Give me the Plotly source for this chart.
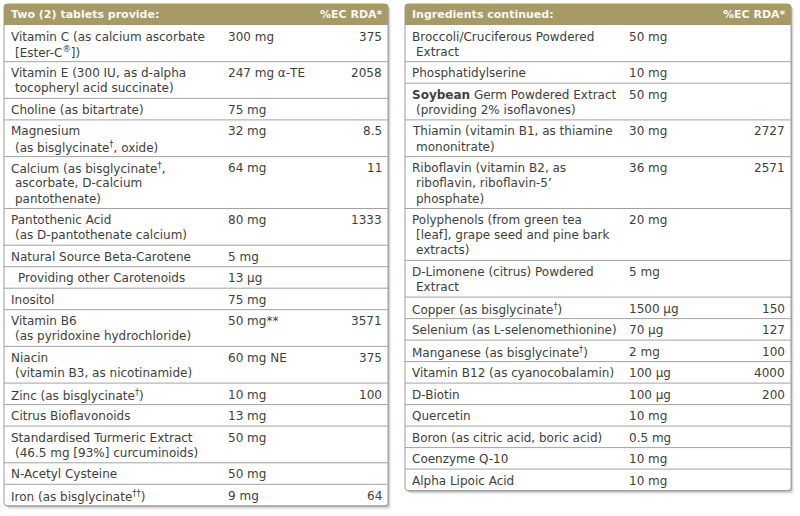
import plotly.graph_objects as go

# Table contents ("\n" = wrapped line, leading "> " = indented sub-item)
left_title = "Two (2) tablets provide:"
right_title = "Ingredients continued:"
rda_title = "%EC RDA*"

left_names = [
    "Vitamin C (as calcium ascorbate\n[Ester-C<sup>®</sup>])",
    "Vitamin E (300 IU, as d-alpha\ntocopheryl acid succinate)",
    "Choline (as bitartrate)",
    "Magnesium\n(as bisglycinate<sup>†</sup>, oxide)",
    "Calcium (as bisglycinate<sup>†</sup>,\nascorbate, D-calcium\npantothenate)",
    "Pantothenic Acid\n(as D-pantothenate calcium)",
    "Natural Source Beta-Carotene",
    "> Providing other Carotenoids",
    "Inositol",
    "Vitamin B6\n(as pyridoxine hydrochloride)",
    "Niacin\n(vitamin B3, as nicotinamide)",
    "Zinc (as bisglycinate<sup>†</sup>)",
    "Citrus Bioflavonoids",
    "Standardised Turmeric Extract\n(46.5 mg [93%] curcuminoids)",
    "N-Acetyl Cysteine",
    "Iron (as bisglycinate<sup>††</sup>)",
]
left_amounts = ["300 mg", "247 mg α-TE", "75 mg", "32 mg", "64 mg", "80 mg", "5 mg",
                "13 μg", "75 mg", "50 mg**", "60 mg NE", "10 mg", "13 mg",
                "50 mg", "50 mg", "9 mg"]
left_rda = ["375", "2058", "", "8.5", "11", "1333", "", "", "", "3571", "375", "100",
            "", "", "", "64"]

right_names = [
    "Broccoli/Cruciferous Powdered\nExtract",
    "Phosphatidylserine",
    "<b>Soybean</b> Germ Powdered Extract\n(providing 2% isoflavones)",
    "Thiamin (vitamin B1, as thiamine\nmononitrate)",
    "Riboflavin (vitamin B2, as\nriboflavin, riboflavin-5’\nphosphate)",
    "Polyphenols (from green tea\n[leaf], grape seed and pine bark\nextracts)",
    "D-Limonene (citrus) Powdered\nExtract",
    "Copper (as bisglycinate<sup>†</sup>)",
    "Selenium (as L-selenomethionine)",
    "Manganese (as bisglycinate<sup>†</sup>)",
    "Vitamin B12 (as cyanocobalamin)",
    "D-Biotin",
    "Quercetin",
    "Boron (as citric acid, boric acid)",
    "Coenzyme Q-10",
    "Alpha Lipoic Acid",
]
right_amounts = ["50 mg", "10 mg", "50 mg", "30 mg", "36 mg", "20 mg", "5 mg",
                 "1500 μg", "70 μg", "2 mg", "100 μg", "100 μg",
                 "10 mg", "0.5 mg", "10 mg", "10 mg"]
right_rda = ["", "", "", "2727", "2571", "", "", "150", "127", "100", "4000", "200",
             "", "", "", ""]

# look
W, H = 800, 516
HEAD_FILL = "#a59a68"
TEXT = "#404040"
RULE = "#a3a3a3"
FONT = "DejaVu Sans"
FS = 12
TOP, HEAD_H = 4, 21
ROW_H, LINE_H = 21.5, 15.2

fig = go.Figure()
fig.add_trace(go.Scatter(x=[0, W], y=[0, H], mode="markers",
                         marker=dict(opacity=0), hoverinfo="skip"))

shapes, notes = [], []


def rounded(x0, y0, x1, y1, r, top_only=False):
    if top_only:
        return (f"M{x0},{y1} L{x0},{y0 + r} Q{x0},{y0} {x0 + r},{y0} "
                f"L{x1 - r},{y0} Q{x1},{y0} {x1},{y0 + r} L{x1},{y1} Z")
    return (f"M{x0 + r},{y0} L{x1 - r},{y0} Q{x1},{y0} {x1},{y0 + r} "
            f"L{x1},{y1 - r} Q{x1},{y1} {x1 - r},{y1} L{x0 + r},{y1} "
            f"Q{x0},{y1} {x0},{y1 - r} L{x0},{y0 + r} Q{x0},{y0} {x0 + r},{y0} Z")


def text(x, y, s, anchor="left", weight="normal", color=TEXT, size=FS):
    notes.append(dict(x=x, y=y, xref="x", yref="y", text=s,
                      showarrow=False, xanchor=anchor, yanchor="middle", align=anchor,
                      borderpad=0, borderwidth=0,
                      font=dict(family=FONT, size=size, color=color, weight=weight)))


def panel(x0, x1, title, names, amounts, rda):
    heights = [ROW_H + LINE_H * name.count("\n") for name in names]
    bottom = TOP + HEAD_H + sum(heights)
    # shadow
    for off, alpha in [(4, 0.06), (2.5, 0.10), (1.2, 0.16)]:
        shapes.append(dict(type="path", xref="x", yref="y", layer="below",
                           path=rounded(x0 + off, TOP + off, x1 + off * 0.8, bottom + off, 3),
                           fillcolor=f"rgba(0,0,0,{alpha})", line=dict(width=0)))
    shapes.append(dict(type="path", xref="x", yref="y", layer="below",
                       path=rounded(x0, TOP, x1, bottom, 3),
                       fillcolor="white", line=dict(color="#9a9a9a", width=1)))
    shapes.append(dict(type="path", xref="x", yref="y", layer="below",
                       path=rounded(x0, TOP, x1, TOP + HEAD_H, 3, top_only=True),
                       fillcolor=HEAD_FILL, line=dict(width=0)))
    text(x0 + 6.5, TOP + HEAD_H / 2, title, weight="bold", color="#fbf8ee", size=11)
    text(x1 - 5, TOP + HEAD_H / 2, rda_title, anchor="right", weight="bold",
         color="#fbf8ee", size=11)

    y = TOP + HEAD_H
    for name, amt, val, h in zip(names, amounts, rda, heights):
        cy = y + 11.5
        for i, line in enumerate(name.split("\n")):
            dx = 6.5
            if line.startswith("> "):
                line, dx = line[2:], 13.5
            elif i > 0:
                dx = 11
            text(x0 + dx, cy + i * LINE_H, line)
        text(x0 + 224, cy, amt)
        if val:
            text(x1 - 6, cy, val, anchor="right")
        y += h
        if y < bottom - 1:
            shapes.append(dict(type="line", xref="x", yref="y", layer="below",
                               x0=x0, x1=x1, y0=y, y1=y,
                               line=dict(color=RULE, width=1)))


panel(4, 388, left_title, left_names, left_amounts, left_rda)
panel(405, 791, right_title, right_names, right_amounts, right_rda)

fig.update_layout(
    width=W, height=H,
    margin=dict(l=0, r=0, t=0, b=0),
    paper_bgcolor="white", plot_bgcolor="white",
    showlegend=False,
    xaxis=dict(range=[0, W], visible=False, fixedrange=True),
    yaxis=dict(range=[H, 0], visible=False, fixedrange=True),
    shapes=shapes, annotations=notes,
)

fig.write_html("out.html", config={"displayModeBar": False},
               post_script="document.body.style.margin='0';")
